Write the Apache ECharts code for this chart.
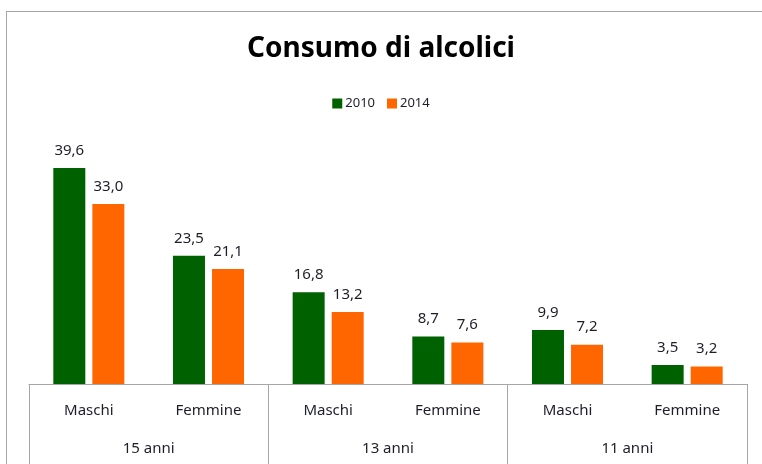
<!DOCTYPE html>
<html>
<head>
<meta charset="utf-8">
<script src="https://cdn.jsdelivr.net/npm/echarts@6/dist/echarts.min.js"></script>
<style>
  html, body { margin: 0; padding: 0; background: #fff; }
  #wrap { position: relative; width: 762px; height: 464px; overflow: hidden; }
  #chart { position: absolute; left: 0; top: 0; width: 762px; height: 464px; }
  /* cornice del grafico (in alto e a sinistra) */
  .frame {
    position: absolute; left: 6px; top: 11px; width: 800px; height: 500px;
    border-top: 1px solid #a6a6a6; border-left: 1px solid #a6a6a6;
    pointer-events: none;
  }
</style>
</head>
<body>
<div id="wrap">
  <div id="chart"></div>
  <div class="frame"></div>
</div>
<script>
// dati
const ages = ['15 anni', '13 anni', '11 anni']
const sexes = ['Maschi', 'Femmine']
const years = ['2010', '2014']
const values2010 = [39.6, 23.5, 16.8, 8.7, 9.9, 3.5]
const values2014 = [33.0, 21.1, 13.2, 7.6, 7.2, 3.2]

const green = '#006100'
const orange = '#ff6600'
const textColor = '#1e1e2a'
const lineColor = '#a6a6a6'
const font = '"Noto Sans", sans-serif'

// una categoria per ogni coppia sesso/età
const categories = ages.flatMap(a => sexes.map(s => s + '|' + a))

const fmt = v => v.toFixed(1).replace('.', ',')

const chart = echarts.init(document.getElementById('chart'))
chart.setOption({
  animation: false,
  textStyle: { fontFamily: font },
  title: {
    text: 'Consumo di alcolici',
    left: 'center',
    top: 30,
    textStyle: { fontSize: 28, fontWeight: 'bold', color: '#000', fontFamily: font }
  },
  legend: {
    data: years,
    left: 'center',
    top: 92,
    itemWidth: 10,
    itemHeight: 10,
    itemGap: 12,
    icon: 'rect',
    textStyle: { fontSize: 13, color: textColor, padding: [0, 0, 0, -2] }
  },
  grid: { left: 29, right: 15, top: 138.5, bottom: 80 },
  xAxis: [
    {
      type: 'category',
      data: categories,
      axisLine: { lineStyle: { color: lineColor, width: 1 } },
      axisTick: { show: false },
      axisLabel: {
        interval: 0,
        margin: 19,
        fontSize: 15,
        color: textColor,
        formatter: v => v.split('|')[0]
      }
    },
    {
      type: 'category',
      data: ages,
      position: 'bottom',
      axisLine: { show: false },
      axisTick: { show: true, length: 80, interval: 0, lineStyle: { color: lineColor, width: 1 } },
      axisLabel: { interval: 0, margin: 57, fontSize: 15, color: textColor }
    }
  ],
  yAxis: {
    type: 'value',
    min: 0,
    max: 45,
    show: false
  },
  series: [
    {
      name: years[0],
      type: 'bar',
      xAxisIndex: 0,
      data: values2010,
      barWidth: 32,
      barGap: '22%',
      itemStyle: { color: green },
      label: {
        show: true,
        position: 'top',
        distance: 10,
        fontSize: 15,
        color: textColor,
        formatter: p => fmt(p.value)
      }
    },
    {
      name: years[1],
      type: 'bar',
      xAxisIndex: 0,
      data: values2014,
      barWidth: 32,
      barGap: '22%',
      itemStyle: { color: orange },
      label: {
        show: true,
        position: 'top',
        distance: 10,
        fontSize: 15,
        color: textColor,
        formatter: p => fmt(p.value)
      }
    }
  ]
})
</script>
</body>
</html>
